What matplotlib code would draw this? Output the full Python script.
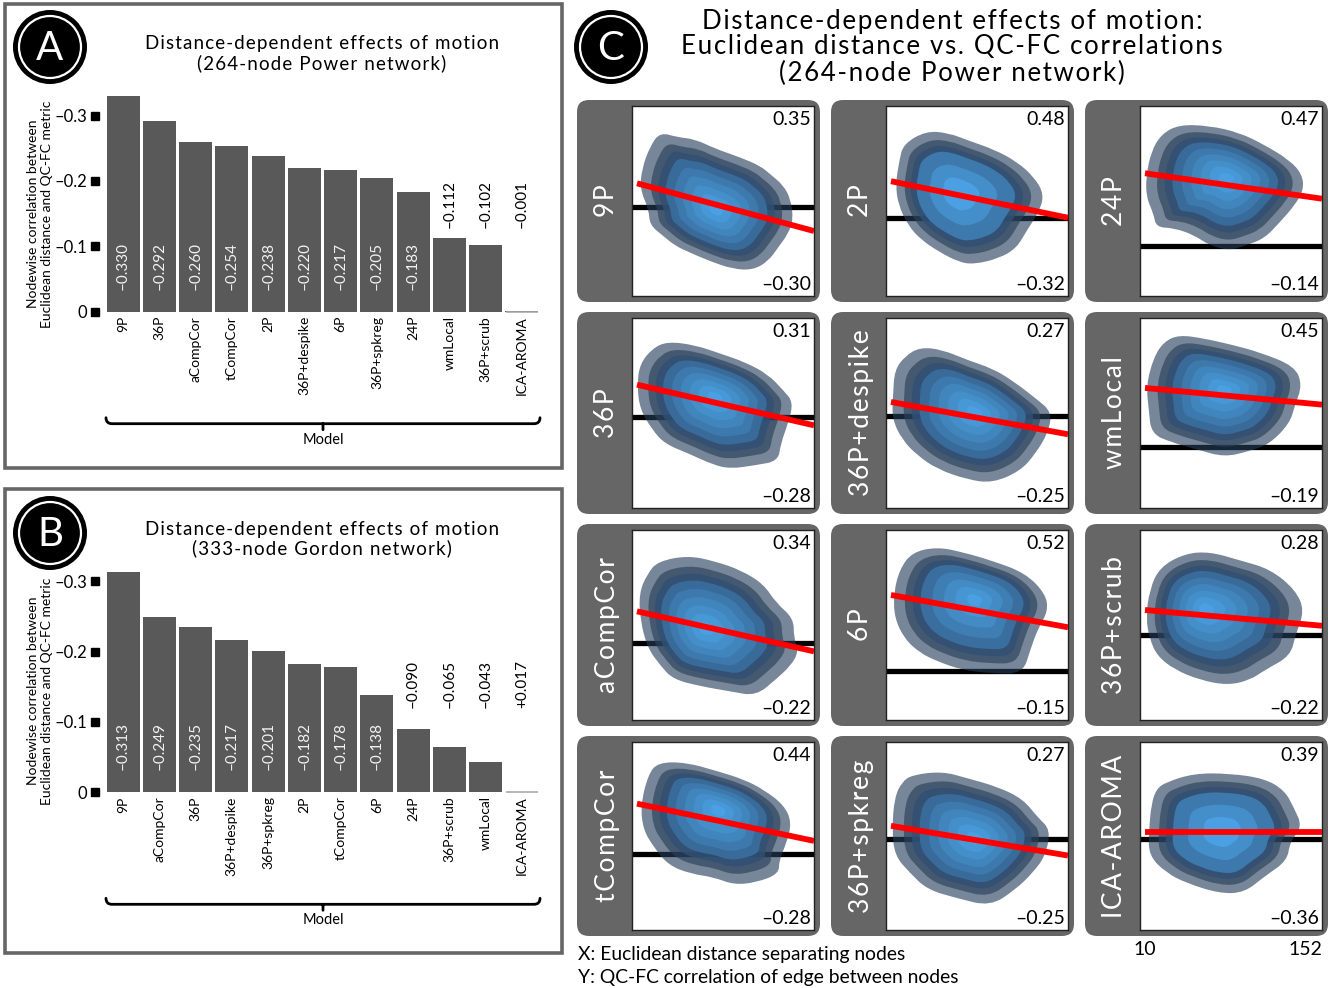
import numpy as np
import matplotlib
matplotlib.use('Agg')
import matplotlib.pyplot as plt
from matplotlib.patches import Circle, FancyBboxPatch, PathPatch, Rectangle
from matplotlib.path import Path
from matplotlib.transforms import blended_transform_factory

plt.rcParams['font.family'] = ['Lato', 'DejaVu Sans']

W, H = 1338, 988

# bar charts
models_a = ['9P', '36P', 'aCompCor', 'tCompCor', '2P', '36P+despike', '6P', '36P+spkreg', '24P', 'wmLocal', '36P+scrub', 'ICA-AROMA']
values_a = [-0.330, -0.292, -0.260, -0.254, -0.238, -0.220, -0.217, -0.205, -0.183, -0.112, -0.102, -0.001]
labels_a = ['–0.330', '–0.292', '–0.260', '–0.254', '–0.238', '–0.220', '–0.217', '–0.205', '–0.183', '–0.112', '–0.102', '–0.001']
models_b = ['9P', 'aCompCor', '36P', '36P+despike', '36P+spkreg', '2P', 'tCompCor', '6P', '24P', '36P+scrub', 'wmLocal', 'ICA-AROMA']
values_b = [-0.313, -0.249, -0.235, -0.217, -0.201, -0.182, -0.178, -0.138, -0.090, -0.065, -0.043, 0.017]
labels_b = ['–0.313', '–0.249', '–0.235', '–0.217', '–0.201', '–0.182', '–0.178', '–0.138', '–0.090', '–0.065', '–0.043', '+0.017']
yticks = [0, -0.1, -0.2, -0.3]
yticklabels = ['0', '–0.1', '–0.2', '–0.3']

# density panels, column by column
panel_names = ['9P', '36P', 'aCompCor', 'tCompCor', '2P', '36P+despike', '6P', '36P+spkreg', '24P', 'wmLocal', '36P+scrub', 'ICA-AROMA']
panel_top = [0.35, 0.31, 0.34, 0.44, 0.48, 0.27, 0.52, 0.27, 0.47, 0.45, 0.28, 0.39]
panel_bottom = [-0.30, -0.28, -0.22, -0.28, -0.32, -0.25, -0.15, -0.25, -0.14, -0.19, -0.22, -0.36]
panel_levels = [9, 9, 9, 9, 6, 9, 8, 9, 9, 9, 9, 6]

# fit line height at the two ends of the distance range, percent of panel height
fit_left = [59.3, 64.9, 57.2, 67.2, 60.4, 55.8, 65.8, 55.4, 64.6, 63.2, 57.9, 52.1]
fit_right = [34.2, 43.5, 36.1, 47.4, 41.2, 38.8, 48.8, 39.6, 51.2, 54.4, 49.6, 52.1]

# densest point, percent of panel width and height
peak_x = [46.3, 45.7, 40.4, 47.6, 39.9, 48.9, 48.9, 48.9, 47.6, 46.3, 35.6, 44.9]
peak_y = [45.3, 58.4, 47.9, 64.2, 54.4, 50.5, 63.7, 48.8, 62.3, 61.9, 58.4, 52.3]

# outer density contour, percent of panel width and height
x_9p = [16.5, 25.8, 35.1, 45.7, 59.0, 69.7, 75.0, 81.6, 85.6, 87.0, 84.3, 79.0, 73.7, 65.7, 55.0, 43.1, 32.4, 24.5, 17.8, 11.2, 10.6, 5.9, 7.2, 11.2]
y_9p = [84.6, 82.1, 81.1, 76.3, 71.9, 67.5, 63.2, 57.9, 50.9, 40.4, 33.3, 26.3, 19.3, 14.9, 15.4, 19.3, 23.7, 27.2, 32.5, 37.7, 45.6, 56.1, 66.7, 77.2]
x_2p = [22.6, 34.6, 45.2, 58.5, 70.5, 79.8, 85.1, 82.4, 75.8, 70.5, 61.2, 47.9, 39.9, 29.3, 19.9, 13.3, 8.0, 6.6, 8.5, 10.6]
y_2p = [85.6, 84.6, 80.7, 76.3, 70.2, 62.3, 53.5, 44.7, 35.1, 26.3, 21.1, 18.1, 19.3, 24.6, 30.7, 37.7, 48.2, 58.8, 70.2, 78.9]
x_24p = [22.3, 38.3, 54.3, 67.6, 80.9, 87.5, 88.3, 83.5, 75.5, 67.6, 58.2, 48.9, 38.3, 30.3, 19.7, 10.4, 9.0, 5.1, 5.1, 7.7, 13.0]
y_24p = [89.1, 88.6, 85.1, 78.9, 71.1, 64.0, 56.1, 48.2, 39.5, 31.6, 28.1, 25.4, 28.1, 33.3, 36.8, 37.2, 43.9, 52.6, 63.2, 75.4, 84.2]
x_36p = [20.5, 35.1, 48.4, 61.7, 73.7, 81.6, 87.0, 84.3, 80.3, 79.0, 67.0, 53.7, 44.4, 32.4, 19.1, 12.5, 5.9, 4.5, 5.9, 12.5]
y_36p = [86.5, 84.7, 80.4, 76.0, 69.8, 61.9, 55.8, 45.3, 34.7, 26.0, 23.9, 22.1, 24.2, 29.5, 34.7, 41.8, 52.3, 64.6, 75.1, 83.0]
x_despike = [19.7, 31.6, 44.9, 58.2, 68.9, 80.9, 89.6, 87.5, 80.9, 72.9, 58.2, 44.9, 29.0, 18.4, 10.4, 5.1, 5.6, 6.4, 11.7]
y_despike = [83.3, 82.1, 76.8, 72.5, 66.3, 57.5, 50.5, 40.0, 29.5, 20.7, 14.6, 16.3, 21.6, 28.6, 36.5, 47.0, 59.3, 71.6, 78.6]
x_wmlocal = [22.3, 35.6, 51.6, 64.9, 83.5, 87.5, 83.5, 80.9, 70.2, 59.6, 46.3, 31.6, 18.4, 7.7, 6.4, 5.1, 9.0, 14.4]
y_wmlocal = [90.0, 88.2, 84.7, 81.2, 74.2, 64.6, 54.0, 45.3, 34.7, 31.2, 28.1, 32.1, 35.6, 40.0, 52.3, 64.6, 78.6, 86.5]
x_acompcor = [15.2, 31.1, 45.7, 59.0, 71.0, 77.7, 87.0, 87.0, 89.6, 85.6, 77.7, 67.0, 53.7, 37.8, 23.1, 16.5, 9.8, 5.9, 5.3, 9.8]
y_acompcor = [82.1, 85.1, 82.1, 77.7, 70.7, 61.1, 53.2, 43.5, 36.5, 29.5, 22.5, 14.0, 16.3, 18.9, 22.5, 29.5, 38.2, 52.3, 66.3, 76.0]
x_6p = [15.7, 29.0, 42.3, 58.2, 75.5, 86.2, 87.5, 82.2, 78.2, 74.2, 58.2, 42.3, 29.0, 19.7, 11.7, 6.4, 5.9, 9.0]
y_6p = [87.4, 90.0, 87.4, 83.0, 76.8, 66.3, 57.5, 48.8, 38.2, 26.0, 26.0, 27.7, 32.1, 36.5, 43.5, 54.0, 66.3, 78.6]
x_scrub = [25.0, 38.3, 54.3, 70.2, 83.5, 88.3, 83.5, 80.9, 67.6, 59.6, 47.6, 33.0, 19.7, 10.4, 6.4, 4.5, 6.4, 11.7]
y_scrub = [86.5, 87.4, 83.0, 78.6, 68.1, 57.5, 45.3, 34.7, 27.7, 22.5, 19.8, 22.5, 27.7, 34.7, 43.5, 54.0, 68.1, 79.5]
x_tcompcor = [15.7, 30.3, 46.3, 60.9, 71.5, 82.2, 86.2, 83.5, 79.5, 79.5, 67.6, 55.6, 44.9, 33.0, 21.0, 13.0, 7.7, 6.4, 10.4]
y_tcompcor = [88.2, 88.2, 83.9, 79.5, 74.2, 66.3, 57.5, 47.0, 38.2, 31.2, 26.8, 25.6, 29.5, 31.2, 35.6, 45.3, 54.0, 66.3, 82.1]
x_spkreg = [15.7, 31.6, 44.9, 60.9, 74.2, 82.2, 88.8, 86.2, 79.5, 70.2, 56.9, 39.6, 23.7, 14.4, 6.4, 5.1, 6.4, 10.4]
y_spkreg = [81.2, 83.0, 79.5, 75.1, 68.9, 59.3, 53.2, 40.0, 31.2, 22.5, 14.0, 18.1, 22.5, 31.2, 40.0, 54.0, 69.8, 77.7]
x_aroma = [15.7, 30.3, 48.9, 67.6, 78.2, 83.0, 87.5, 80.9, 79.5, 67.6, 56.9, 43.6, 26.3, 15.7, 6.4, 6.4, 7.7, 10.4]
y_aroma = [77.7, 82.1, 82.1, 79.5, 73.3, 64.6, 54.9, 47.0, 37.4, 29.5, 21.1, 20.7, 26.0, 31.2, 40.0, 52.3, 66.3, 74.2]

outlines_x = [x_9p, x_36p, x_acompcor, x_tcompcor, x_2p, x_despike, x_6p, x_spkreg, x_24p, x_wmlocal, x_scrub, x_aroma]
outlines_y = [y_9p, y_36p, y_acompcor, y_tcompcor, y_2p, y_despike, y_6p, y_spkreg, y_24p, y_wmlocal, y_scrub, y_aroma]


def px_axes(fig, x0, y0, x1, y1, **kw):
    # axes from pixel box, y measured from the top
    return fig.add_axes([x0 / W, 1 - y1 / H, (x1 - x0) / W, (y1 - y0) / H], **kw)


def spaced(s, n=1):
    return ('\u200a' * n).join(s)


def smooth_closed(xs, ys):
    pts = np.column_stack([xs, ys])
    nxt = np.roll(pts, -1, axis=0)
    mids = (pts + nxt) / 2
    verts = [mids[-1]]
    codes = [Path.MOVETO]
    for p, m in zip(pts, mids):
        verts += [p, m]
        codes += [Path.CURVE3, Path.CURVE3]
    return Path(verts, codes)


def level_styles(n):
    cols = [(36 / 255, 62 / 255, 90 / 255, 0.62), (42 / 255, 66 / 255, 92 / 255, 0.66)]
    for i, t in enumerate(np.linspace(0, 1, n - 2)):
        c = np.array([48, 80, 116]) * (1 - t ** 0.6) + np.array([74, 160, 226]) * t ** 0.6
        alpha = 0.8 if i == 0 else 1.0
        cols.append(tuple(c / 255) + (alpha,))
    end = 0.1 if n >= 8 else 0.26
    scales = [1.04, 0.9, 0.8] + list(np.linspace(0.7, end, n - 3))
    return cols, scales


def badge(bg, cx, cy, letter):
    bg.add_patch(Circle((cx, cy), 37, fc='black', ec='none'))
    bg.add_patch(Circle((cx, cy), 31, fc='black', ec='white', lw=1.6))
    bg.text(cx, cy + 1, letter, color='white', fontsize=29, ha='center', va='center')


def bar_panel(fig, bg, top, title, ylabel_y, zero_px, unit, models, values, labels, inside, outside, thresh):
    bg.add_patch(Rectangle((5, top), 557, 464, fc='white', ec='#666666', lw=2.6))
    bg.text(322, top + 40, spaced(title[0]), fontsize=13.5, ha='center', va='center')
    bg.text(322, top + 59, spaced(title[1]), fontsize=13.5, ha='center', va='center')

    ax_top = zero_px - 230
    ax = px_axes(fig, 105, ax_top, 540, zero_px, facecolor='none')
    ax.bar(range(12), values, width=0.91, color='#595959')
    ax.hlines(0, 10.55, 11.45, color='#aaaaaa', lw=1.2, clip_on=False, zorder=3)
    ax.set_xlim(-0.5, 11.5)
    ax.set_ylim(0, -(zero_px - ax_top) / unit)
    ax.set_xticks(range(12), models, rotation=90, fontsize=10)
    ax.set_yticks(yticks, yticklabels, fontsize=12)
    ax.tick_params(axis='x', length=0, pad=3)
    ax.tick_params(axis='y', length=0, pad=13)
    for s in ax.spines.values():
        s.set_visible(False)
    trans = blended_transform_factory(ax.transAxes, ax.transData)
    ax.plot([-0.024] * len(yticks), yticks, 's', color='black', ms=5.2, transform=trans, clip_on=False)

    for i, (v, lab) in enumerate(zip(values, labels)):
        if abs(v) >= thresh:
            ax.text(i, inside, lab, rotation=90, color='#f2f2f2', fontsize=11, ha='center', va='bottom')
        else:
            ax.text(i, outside, lab, rotation=90, color='black', fontsize=11, ha='center', va='bottom')

    bg.text(40.5, ylabel_y, 'Nodewise correlation between\nEuclidean distance and QC-FC metric', rotation=90,
            fontsize=10, ha='center', va='center', linespacing=1.2, multialignment='center')

    # brace under the model names
    yb = zero_px + 112
    verts = [(106, yb - 6), (106, yb), (112, yb), (534, yb), (540, yb), (540, yb - 6), (323, yb), (323, yb + 6)]
    codes = [Path.MOVETO, Path.CURVE3, Path.CURVE3, Path.LINETO, Path.CURVE3, Path.CURVE3, Path.MOVETO, Path.LINETO]
    bg.add_patch(PathPatch(Path(verts, codes), fc='none', ec='black', lw=2, capstyle='round'))
    bg.text(323, yb + 16, 'Model', fontsize=10.5, ha='center', va='center')


def main():
    fig = plt.figure(figsize=(W / 100, H / 100), dpi=100, facecolor='white')
    bg = fig.add_axes([0, 0, 1, 1])
    bg.set_xlim(0, W)
    bg.set_ylim(H, 0)
    bg.axis('off')

    bar_panel(fig, bg, 4, ('Distance-dependent effects of motion', '(264-node Power network)'), 214, 311.7, 653.6,
              models_a, values_a, labels_a, -0.033, -0.128, 0.15)
    bar_panel(fig, bg, 489, ('Distance-dependent effects of motion', '(333-node Gordon network)'), 691, 792.3, 703.0,
              models_b, values_b, labels_b, -0.032, -0.120, 0.11)
    badge(bg, 50, 47, 'A')
    badge(bg, 50, 533, 'B')
    badge(bg, 611, 47, 'C')

    for y, line in zip([21, 47, 73], ['Distance-dependent effects of motion:', 'Euclidean distance vs. QC-FC correlations', '(264-node Power network)']):
        bg.text(952, y, spaced(line), fontsize=18.6, ha='center', va='center')

    cols = [(632, 814), (886, 1068), (1140, 1322)]
    rows = [(106, 296), (318, 508), (530, 720), (742, 930)]
    for k, name in enumerate(panel_names):
        c, r = k // 4, k % 4
        x0, x1 = cols[c]
        y0, y1 = rows[r]
        bg.add_patch(FancyBboxPatch((x0 - 45, y0 + 4), x1 - x0 + 41, y1 - y0 - 8,
                                    boxstyle='round,pad=10,rounding_size=12', fc='#666666', ec='none'))
        bg.text(x0 - 25, (y0 + y1) / 2, spaced(name), color='white', rotation=90, fontsize=19, ha='center', va='center')

        ax = px_axes(fig, x0, y0, x1, y1, facecolor='white')
        lo, hi = panel_bottom[k], panel_top[k]
        pad = 0.07 * (hi - lo)
        xlim = (6, 152)
        ylim = (lo - pad, hi + pad)
        ax.set_xlim(*xlim)
        ax.set_ylim(*ylim)

        def to_x(p):
            return xlim[0] + np.asarray(p) / 100 * (xlim[1] - xlim[0])

        def to_y(p):
            return ylim[0] + np.asarray(p) / 100 * (ylim[1] - ylim[0])

        ax.axhline(0, color='black', lw=3.8, zorder=1)

        ox, oy = to_x(outlines_x[k]), to_y(outlines_y[k])
        px, py = to_x(peak_x[k]), to_y(peak_y[k])
        colors, scales = level_styles(panel_levels[k])
        for col, s in zip(colors, scales):
            ax.add_patch(PathPatch(smooth_closed(px + s * (ox - px), py + s * (oy - py)), fc=col, ec='none', zorder=2))

        ax.plot([10, 152], [to_y(fit_left[k]), to_y(fit_right[k])], color='#ff0000', lw=4.2, solid_capstyle='butt', zorder=3)

        ax.text(0.985, 0.93, f'{hi:.2f}', transform=ax.transAxes, fontsize=14, ha='right', va='center')
        ax.text(0.985, 0.06, f'–{abs(lo):.2f}', transform=ax.transAxes, fontsize=14, ha='right', va='center')

        ax.set_yticks([])
        if name == 'ICA-AROMA':
            ax.set_xticks([10, 152], ['10', '152'], fontsize=14)
            ax.tick_params(axis='x', length=0, pad=8)
            ax.get_xticklabels()[1].set_ha('right')
        else:
            ax.set_xticks([])
        for s in ax.spines.values():
            s.set_linewidth(1.0)
            s.set_color('#222222')

    bg.text(578, 954, 'X: Euclidean distance separating nodes', fontsize=13.9, ha='left', va='center')
    bg.text(578, 977, 'Y: QC-FC correlation of edge between nodes', fontsize=13.9, ha='left', va='center')

    fig.savefig('out.png', dpi=100)


if __name__ == '__main__':
    main()
